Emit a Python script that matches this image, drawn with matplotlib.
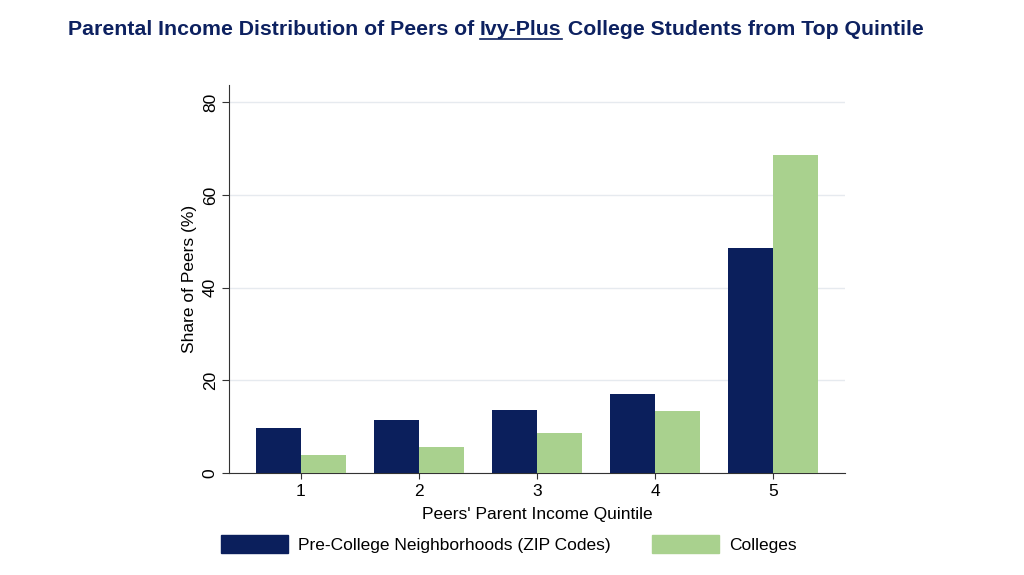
import matplotlib
matplotlib.use("Agg")
import matplotlib.pyplot as plt
from matplotlib.patches import Patch
import numpy as np

plt.rcParams['font.family'] = ['Liberation Sans', 'DejaVu Sans']

quintiles = ["1", "2", "3", "4", "5"]
neighborhoods = [9.8, 11.5, 13.5, 17.1, 48.6]
colleges = [3.8, 5.7, 8.7, 13.3, 68.7]
series_labels = ["Pre-College Neighborhoods (ZIP Codes)", "Colleges"]
yticks = [0, 20, 40, 60, 80]

navy = "#0b1f5c"
green = "#a9d18e"
title_color = "#0d2160"

fig = plt.figure(figsize=(10.24, 5.75), dpi=100)
ax = fig.add_axes([0.2236, 0.1774, 0.6016, 0.6746])

x = np.arange(1, len(quintiles) + 1)
w = 0.38
ax.bar(x - w / 2, neighborhoods, width=w, color=navy, zorder=3)
ax.bar(x + w / 2, colleges, width=w, color=green, zorder=3)

ax.set_xlim(0.39, 5.61)
ax.set_ylim(0, 83.7)
ax.set_xticks(x)
ax.set_xticklabels(quintiles, fontsize=12.5)
ax.set_yticks(yticks)
ax.set_yticklabels([str(v) for v in yticks], fontsize=12.5, rotation=90, va='center')
ax.tick_params(axis='y', length=5, width=0.8, color='#333333', pad=3)
ax.tick_params(axis='x', length=4, width=0.8, color='#333333', pad=4)
ax.yaxis.grid(True, color='#e6eaef', linewidth=1.0, zorder=0)
ax.set_axisbelow(True)
for s in ['top', 'right']:
    ax.spines[s].set_visible(False)
ax.spines['left'].set_color('#333333')
ax.spines['bottom'].set_color('#333333')
ax.spines['left'].set_linewidth(0.8)
ax.spines['bottom'].set_linewidth(0.8)

ax.set_xlabel("Peers' Parent Income Quintile", fontsize=12.5, labelpad=6)
ax.set_ylabel("Share of Peers (%)", fontsize=12.5, labelpad=4)

handles = [Patch(facecolor=navy, edgecolor=navy), Patch(facecolor=green, edgecolor=green)]
fig.legend(handles, series_labels, loc='center', bbox_to_anchor=(0.497, 1 - 544 / 575),
           ncol=2, frameon=False, fontsize=12.5, handlelength=3.85, handleheight=1.2,
           columnspacing=2.4, handletextpad=0.6)

# Title with underlined "Ivy-Plus"
parts = ["Parental Income Distribution of Peers of ", "Ivy-Plus", " College Students from Top Quintile"]
fig.canvas.draw()
renderer = fig.canvas.get_renderer()
tprops = dict(fontsize=15.3, fontweight='bold', color=title_color, va='baseline')
tmp = [fig.text(0, 0, p, **tprops) for p in parts]
widths = [t.get_window_extent(renderer).width for t in tmp]
for t in tmp:
    t.remove()
total = sum(widths)
cx = 495.5
baseline_y = 575 - 35
xpos = cx - total / 2
W, H = fig.bbox.width, fig.bbox.height
for p, wd in zip(parts, widths):
    fig.text(xpos / W, baseline_y / H, p, **tprops)
    if p == "Ivy-Plus":
        fig.add_artist(plt.Line2D([xpos / W, (xpos + wd) / W],
                                  [(baseline_y - 3.5) / H, (baseline_y - 3.5) / H],
                                  color=title_color, linewidth=1.2))
    xpos += wd

fig.savefig("out.png", dpi=100)
